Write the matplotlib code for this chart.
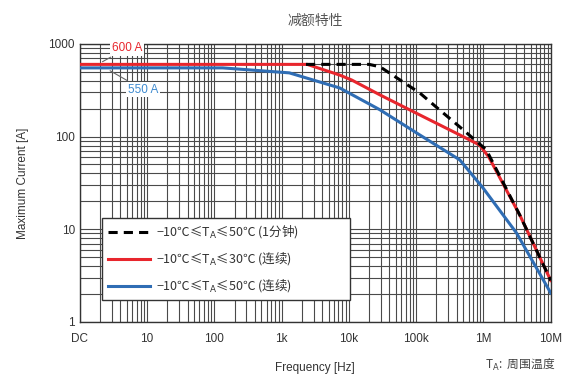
import matplotlib
matplotlib.use("Agg")
import matplotlib.pyplot as plt
from matplotlib.ticker import LogLocator, FixedLocator, FixedFormatter, NullFormatter

plt.rcParams['font.family'] = ['Liberation Sans', 'Noto Sans CJK SC', 'DejaVu Sans']

# 数据
freq_1min = [2300, 20000, 29000, 113000, 222000, 444000, 1100000, 3500000, 10000000]
cur_1min = [600, 600, 565, 295, 194, 127, 72, 14, 2.8]

freq_30 = [1, 2400, 7300, 11000, 29000, 113000, 444000, 875000, 1200000, 3500000, 10000000]
cur_30 = [600, 600, 460, 407, 281, 171, 104, 81, 60, 14, 2.8]

freq_50 = [1, 133, 1300, 7300, 10000, 29000, 113000, 444000, 980000, 3100000, 10000000]
cur_50 = [550, 550, 486, 334, 295, 194, 104, 56, 28, 9.1, 2.05]

xtick_pos = [1, 10, 100, 1e3, 1e4, 1e5, 1e6, 1e7]
xtick_lab = ['DC', '10', '100', '1k', '10k', '100k', '1M', '10M']
ytick_pos = [1, 10, 100, 1000]
ytick_lab = ['1', '10', '100', '1000']

labels = ['\u221210\u2103\u2264T$_\\mathrm{A}$\u226450\u2103 (1分钟)',
          '\u221210\u2103\u2264T$_\\mathrm{A}$\u226430\u2103 (连续)',
          '\u221210\u2103\u2264T$_\\mathrm{A}$\u226450\u2103 (连续)']

RED = '#e8262d'
BLUE = '#2f6db4'
CJK = ['Noto Sans CJK SC', 'DejaVu Sans']

fig = plt.figure(figsize=(5.62, 3.81), dpi=100)
ax = fig.add_axes([0.142, 0.155, 0.838, 0.730])

ax.set_xscale('log')
ax.set_yscale('log')
ax.set_xlim(1, 1e7)
ax.set_ylim(1, 1000)

ax.plot(freq_1min, cur_1min, color='black', lw=2.2, ls=(0, (3, 2)), label=labels[0], zorder=4)
ax.plot(freq_30, cur_30, color=RED, lw=2.2, label=labels[1], zorder=3)
ax.plot(freq_50, cur_50, color=BLUE, lw=2.2, label=labels[2], zorder=3)

ax.xaxis.set_major_locator(FixedLocator(xtick_pos))
ax.xaxis.set_major_formatter(FixedFormatter(xtick_lab))
ax.xaxis.set_minor_locator(LogLocator(base=10, subs=range(2, 10), numticks=20))
ax.xaxis.set_minor_formatter(NullFormatter())
ax.yaxis.set_major_locator(FixedLocator(ytick_pos))
ax.yaxis.set_major_formatter(FixedFormatter(ytick_lab))
ax.yaxis.set_minor_locator(LogLocator(base=10, subs=range(2, 10), numticks=20))
ax.yaxis.set_minor_formatter(NullFormatter())

ax.grid(True, which='both', color='#4a4a4a', lw=0.8)
ax.tick_params(which='both', length=0, labelsize=8.5, colors='#333333')
ax.tick_params(axis='x', pad=8)
for s in ax.spines.values():
    s.set_color('#333333')
    s.set_linewidth(1)

ax.set_xlabel('Frequency [Hz]', fontsize=8.5, color='#333333', labelpad=12)
ax.set_ylabel('Maximum Current [A]', fontsize=8.5, color='#333333', labelpad=14)
ax.set_title('减额特性', fontsize=10, color='#555555', pad=14, family=CJK)

fig.text(0.988, 0.02, 'T$_\\mathrm{A}$:  周围温度', ha='right', va='bottom',
         fontsize=8.5, color='#444444', family=CJK)

# 标注
ax.annotate('600 A', xy=(2.0, 620), xytext=(3.0, 900), color=RED, fontsize=8.5,
            ha='left', va='center',
            bbox=dict(boxstyle='square,pad=0.15', fc='white', ec='none'),
            arrowprops=dict(arrowstyle='-', color='#666666', lw=0.8), zorder=6)
ax.annotate('550 A', xy=(2.6, 530), xytext=(5.2, 320), color='#3d8ad0', fontsize=8.5,
            ha='left', va='center',
            bbox=dict(boxstyle='square,pad=0.15', fc='white', ec='none'),
            arrowprops=dict(arrowstyle='-', color='#666666', lw=0.8), zorder=6)

leg = ax.legend(loc='lower left', bbox_to_anchor=(0.047, 0.079, 0.527, 0.28),
                mode='expand', borderaxespad=0,
                frameon=True, fancybox=False, edgecolor='#333333', framealpha=1,
                handlelength=3.4, handletextpad=0.5, borderpad=0.45, labelspacing=0.8,
                prop={'family': CJK, 'size': 9})
leg.set_zorder(10)
for t in leg.get_texts():
    t.set_color('#333333')

fig.savefig('out.png', dpi=100)
